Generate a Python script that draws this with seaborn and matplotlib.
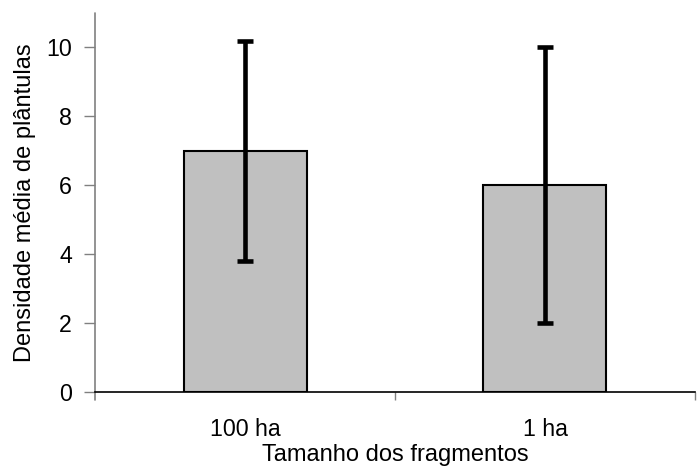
import matplotlib
matplotlib.use("Agg")
import matplotlib.pyplot as plt
import seaborn as sns
import pandas as pd

categories = ["100 ha", "1 ha"]
means = [7.0, 6.0]
errors = [3.2, 4.0]
y_ticks = [0, 2, 4, 6, 8, 10]

sns.set_style("white")
plt.rcParams['font.family'] = ['Liberation Sans', 'DejaVu Sans']
plt.rcParams['text.color'] = 'black'
plt.rcParams['axes.labelcolor'] = 'black'
plt.rcParams['xtick.color'] = 'black'
plt.rcParams['ytick.color'] = 'black'

FS = 16.7
LFS = 17

fig = plt.figure(figsize=(6.98, 4.66), dpi=100)
ax = fig.add_axes([95/698, 1-392/466, 600/698, (392-13)/466])

df = pd.DataFrame({"cat": categories, "val": means})
sns.barplot(data=df, x="cat", y="val", order=categories, color="#C0C0C0",
            edgecolor="black", linewidth=1.5, width=0.41, errorbar=None,
            saturation=1, ax=ax)
ax.errorbar(range(len(categories)), means, yerr=errors, fmt="none",
            ecolor="black", elinewidth=3.3, capsize=5.5, capthick=3.3, zorder=5)

ax.set_xlim(-0.5, len(categories) - 0.5)
ax.set_ylim(0, 11)
ax.set_yticks(y_ticks)
ax.set_yticklabels([str(t) for t in y_ticks], fontsize=FS, color="black")

ax.set_xticks([0.5, 1.5])
ax.set_xticklabels([])
ax.set_xticks([0, 1], minor=True)
ax.set_xticklabels(categories, minor=True, fontsize=FS, color="black")
ax.tick_params(axis="x", which="major", direction="out", length=6, width=1,
               color="#808080", bottom=True)
ax.tick_params(axis="x", which="minor", length=0, pad=19, bottom=True)
ax.tick_params(axis="y", direction="out", length=8, width=1, color="#808080",
               pad=8.5, left=True)

for s in ["top", "right"]:
    ax.spines[s].set_visible(False)
ax.spines["left"].set_visible(False)
ax.spines["bottom"].set_color("black")
ax.spines["bottom"].set_linewidth(1.2)
ax.spines["bottom"].set_zorder(6)
ax.plot([0, 0], [-0.23, 11], transform=ax.get_yaxis_transform(),
        color="#808080", lw=1.2, clip_on=False, zorder=6)

ax.set_xlabel("Tamanho dos fragmentos", fontsize=LFS, color="black")
ax.xaxis.set_label_coords(0.5, -0.181)
ax.xaxis.label.set_va("baseline")
ax.set_ylabel("Densidade média de plântulas", fontsize=LFS, color="black")
ax.yaxis.set_label_coords(-0.117, 0.5)
ax.yaxis.label.set_va("center")

fig.savefig("out.png", dpi=100)
